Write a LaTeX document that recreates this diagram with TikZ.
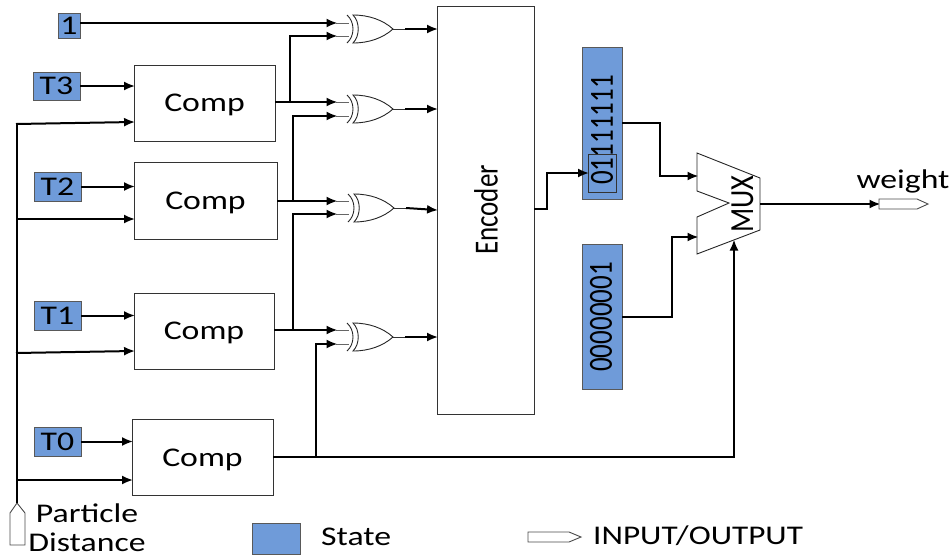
\documentclass[tikz,border=0pt]{standalone}
\usepackage{fontspec}
\setmainfont{Carlito}
\usetikzlibrary{arrows.meta,calc}
\definecolor{stateblue}{HTML}{6F9BD9}
\newcommand{\stx}[1]{\scalebox{1.25}[1]{#1}}
\newcommand{\sty}[1]{\scalebox{1}[1.25]{#1}}
\tikzset{
  x=1pt,y=-1pt,
  txt/.style={font=\fontsize{27}{30}\selectfont,inner sep=0pt,text=black},
  statebox/.style={draw=black!65,line width=.8pt,fill=stateblue,inner sep=0pt,txt},
  compbox/.style={draw=black!80,line width=.9pt,fill=white,inner sep=0pt,minimum width=141pt,minimum height=76pt},
  wire/.style={line width=2pt,black,line join=miter},
  arrowwire/.style={wire,-{Latex[length=11pt,width=9pt]},shorten >=-1.5pt},
  thinwire/.style={line width=1pt,black!60},
  gateline/.style={line width=.9pt,black!85},
  xorgate/.pic={
    \draw[gateline,fill=white] (-40,-14) .. controls (-24,-14) and (-10,-9) .. (0,0) .. controls (-10,9) and (-24,14) .. (-40,14) .. controls (-33,7) and (-33,-7) .. (-40,-14) -- cycle;
    \draw[gateline] (-46,-14) .. controls (-38,-7) and (-38,7) .. (-46,14);
  },
  portshape/.style={draw=black!70,line width=.9pt,fill=white}
}
\begin{document}
\begin{tikzpicture}
\useasboundingbox (0,0) rectangle (951,558);

% state boxes
\node[statebox,minimum width=22pt,minimum height=25pt] (one) at (69,25.5) {\stx{1}};
\node[statebox,minimum width=47pt,minimum height=28pt] (t3) at (56.5,86) {\stx{T3}};
\node[statebox,minimum width=47pt,minimum height=29pt] (t2) at (57.5,186.5) {\stx{T2}};
\node[statebox,minimum width=47pt,minimum height=29pt] (t1) at (57.5,315.5) {\stx{T1}};
\node[statebox,minimum width=47pt,minimum height=29pt] (t0) at (57.5,441.5) {\stx{T0}};

% comparators
\node[compbox] (c3) at (204.5,103) {};
\node[compbox,minimum width=143pt,minimum height=77pt] (c2) at (205.5,200.5) {};
\node[compbox,minimum width=140pt] (c1) at (204,331) {};
\node[compbox] (c0) at (202.5,457.5) {};
\node[txt] (c3t) at (204.5,105) {\stx{Comp}};
\node[txt] (c2t) at (205.5,202.5) {\stx{Comp}};
\node[txt] (c1t) at (204,333) {\stx{Comp}};
\node[txt] (c0t) at (202.5,459.5) {\stx{Comp}};

% encoder
\node[draw=black!80,line width=.9pt,fill=white,minimum width=97pt,minimum height=408pt,inner sep=0pt] (enc) at (485.5,210) {};
\node[txt,rotate=90] (enctxt) at (486,210) {\sty{Encoder}};

% state words
\node[draw=black!65,line width=.8pt,fill=stateblue,minimum width=40pt,minimum height=152pt,inner sep=0pt] (w1) at (602,123) {};
\node[txt,rotate=90] (w1txt) at (602,130) {\sty{01111111}};
\node[draw=black!80,line width=.9pt,minimum width=28pt,minimum height=38pt,inner sep=0pt] (w1sel) at (602,173) {};
\node[statebox,minimum width=40pt,minimum height=145pt] (w2) at (602,316.5) {};
\node[txt,rotate=90] (w2txt) at (601,317) {\sty{00000001}};

% MUX
\draw[gateline,fill=white] (697,153) -- (760,178) -- (760,230) -- (697,254) -- (697,217) -- (729,203) -- (697,191) -- cycle;
\coordinate (muxa) at (697,176);
\coordinate (muxb) at (697,237);
\coordinate (muxo) at (760,204);
\coordinate (muxs) at (734,241);
\node[txt,rotate=90] (muxtxt) at (742.5,204) {\scalebox{1.05}[1.25]{MUX}};

% XOR gates
\foreach \n/\px/\py in {g3/393/29,g2/393/109,g1/394/208,g0/393/337}{
  \path (\px,\py) pic {xorgate};
  \coordinate (\n o) at (\px,\py);
}
\coordinate (g3a) at (336,23);  \coordinate (g3b) at (336,36);
\coordinate (g2a) at (336,102); \coordinate (g2b) at (336,116);
\coordinate (g1a) at (336,201); \coordinate (g1b) at (336,214);
\coordinate (g0a) at (336,330); \coordinate (g0b) at (336,344);
\foreach \n in {g3a,g3b,g2a,g2b,g1a,g1b,g0a,g0b}{
  \draw[thinwire] (\n) -- ++(13,0);
}

% inputs to the comparators
\draw[arrowwire] (t3.east) -- (c3.west |- t3.east);
\draw[arrowwire] (t2.east) -- (c2.west |- t2.east);
\draw[arrowwire] (t1.east) -- (c1.west |- t1.east);
\draw[arrowwire] (t0.east) -- (c0.west |- t0.east);

% particle distance
\coordinate (pd) at (17,503);
\draw[portshape] (17,503) -- (25,513) -- (25,545) -- (10,545) -- (10,513) -- cycle;
\draw[wire] (pd) -- (17,123);
\coordinate (pd3) at (16,124);
\coordinate (pd2) at (16,219);
\coordinate (pd1) at (16,353);
\coordinate (pd0) at (16,480);
\draw[arrowwire] (pd3) -- (c3.west |- 0,122);
\draw[arrowwire] (pd2) -- (c2.west |- pd2);
\draw[arrowwire] (pd1) -- (c1.west |- 0,351);
\draw[arrowwire] (pd0) -- (c0.west |- pd0);

% to the gates
\draw[arrowwire] (one.east |- g3a) -- (g3a);
\draw[arrowwire] (c3.east |- g2a) -- (g2a);
\draw[arrowwire] (c2.east |- g1a) -- (g1a);
\draw[arrowwire] (c1.east |- g0a) -- (g0a);
\draw[arrowwire] (290,102) -- (290,36) -- (g3b);
\draw[arrowwire] (293,201) -- (293,116) -- (g2b);
\draw[arrowwire] (293,330) -- (293,214) -- (g1b);
\draw[arrowwire] (316,457) -- (316,344) -- (g0b);
\draw[wire] (c0.east |- 0,457) -- (734,457);
\draw[arrowwire] (734,458) -- (muxs);

% gates to the encoder
\draw[thinwire,black!80] (g3o) -- ++(12,0);
\draw[thinwire,black!80] (g2o) -- ++(12,0);
\draw[thinwire,black!80] (g1o) -- ++(12,0);
\draw[thinwire,black!80] (g0o) -- ++(12,0);
\draw[arrowwire] (405,29) -- (enc.west |- 0,29);
\draw[arrowwire] (405,109) -- (enc.west |- 0,109);
\draw[arrowwire] (406,208) -- (enc.west |- 0,210);
\draw[arrowwire] (405,337) -- (enc.west |- 0,337);

% encoder to word, word to MUX
\draw[arrowwire] (enc.east |- 0,209) -- (547,209) -- (547,173) -- (w1sel.west);
\draw[arrowwire] (w1.east |- 0,123) -- (660,123) -- (660,176) -- (muxa);
\draw[arrowwire] (w2.east |- 0,317) -- (672,317) -- (672,237) -- (muxb);

% output
\coordinate (wout) at (879,204);
\draw[arrowwire] (muxo) -- (wout);
\draw[portshape] (879,199) -- (917,199) -- (928,204) -- (917,209) -- (879,209) -- cycle;

% labels
\node[txt] (weight) at (903,181) {\stx{weight}};
\node[txt] (ptext) at (87,513) {\stx{Particle}};
\node[txt] (dtext) at (87,542) {\stx{Distance}};

% legend
\node[draw=black!65,line width=.8pt,fill=stateblue,minimum width=48pt,minimum height=31pt,inner sep=0pt] (legstate) at (276,538.5) {};
\node[txt,anchor=west] (legstatetxt) at (321,537) {\stx{State}};
\draw[portshape] (528,532) -- (569,532) -- (581,537) -- (569,542) -- (528,542) -- cycle;
\node[txt,anchor=west] (legiotxt) at (593,536) {\scalebox{1.23}[1]{INPUT/OUTPUT}};
\end{tikzpicture}
\end{document}
